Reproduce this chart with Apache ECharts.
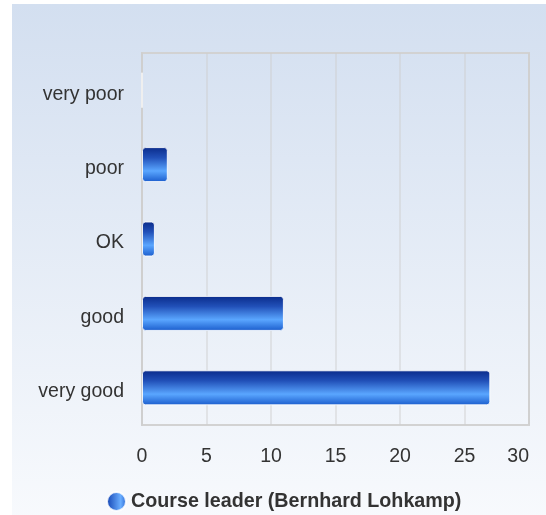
<!DOCTYPE html>
<html>
<head>
<meta charset="utf-8">
<script src="https://cdn.jsdelivr.net/npm/echarts@6/dist/echarts.min.js"></script>
<style>
  html, body { margin: 0; padding: 0; background: #fff; }
  #chart { width: 546px; height: 515px; }
</style>
</head>
<body>
<div id="chart"></div>
<script>
// ratings, top to bottom
const categories = ['very poor', 'poor', 'OK', 'good', 'very good']
const values = [0, 2, 1, 11, 27]
const seriesName = 'Course leader (Bernhard Lohkamp)'

const barGradient = new echarts.graphic.LinearGradient(0, 0, 0, 1, [
  { offset: 0, color: '#0a2b8a' },
  { offset: 0.3, color: '#2150b8' },
  { offset: 0.68, color: '#5aa6ff' },
  { offset: 1, color: '#1a5ccc' }
])

const chart = echarts.init(document.getElementById('chart'))
chart.setOption({
  animation: false,
  textStyle: { fontFamily: '"Liberation Sans", Arial, sans-serif' },
  graphic: [{
    type: 'rect',
    z: -10,
    silent: true,
    shape: { x: 12, y: 4, width: 540, height: 520 },
    style: {
      fill: new echarts.graphic.LinearGradient(0, 0, 0, 1, [
        { offset: 0, color: '#d3dff0' },
        { offset: 1, color: '#f8fafd' }
      ])
    }
  }],
  grid: {
    show: true,
    left: 142,
    right: 17,
    top: 53,
    bottom: 90,
    borderColor: '#d2d2d2',
    borderWidth: 2,
    backgroundColor: 'transparent'
  },
  legend: {
    left: 101,
    top: 486,
    icon: 'circle',
    itemWidth: 19,
    itemHeight: 19,
    itemGap: 10,
    textStyle: { fontSize: 19.7, fontWeight: 'bold', color: '#333' },
    data: [{
      name: seriesName,
      itemStyle: {
        color: new echarts.graphic.LinearGradient(0, 0, 1, 0, [
          { offset: 0, color: '#0f3fb0' },
          { offset: 0.7, color: '#6aaeff' },
          { offset: 1, color: '#2260d0' }
        ])
      }
    }]
  },
  xAxis: {
    type: 'value',
    min: 0,
    max: 30,
    interval: 5,
    axisLine: { show: false },
    axisTick: { show: false },
    axisLabel: { fontSize: 19.5, color: '#333', margin: 22, alignMaxLabel: 'right' },
    splitLine: { lineStyle: { color: 'rgba(205,205,205,0.6)', width: 1.5 } }
  },
  yAxis: {
    type: 'category',
    inverse: true,
    data: categories,
    axisLine: { lineStyle: { color: '#cfcfcf', width: 2 } },
    axisTick: { show: false },
    axisLabel: {
      margin: 18,
      formatter: '{a|{value}}',
      rich: { a: { fontSize: 19.5, color: '#333', padding: [8, 0, 0, 0] } }
    }
  },
  series: [{
    name: seriesName,
    type: 'bar',
    barWidth: 35,
    data: values,
    itemStyle: {
      color: barGradient,
      borderColor: 'rgba(255,255,255,0.85)',
      borderWidth: 1,
      borderRadius: 3
    }
  }]
})
</script>
</body>
</html>
